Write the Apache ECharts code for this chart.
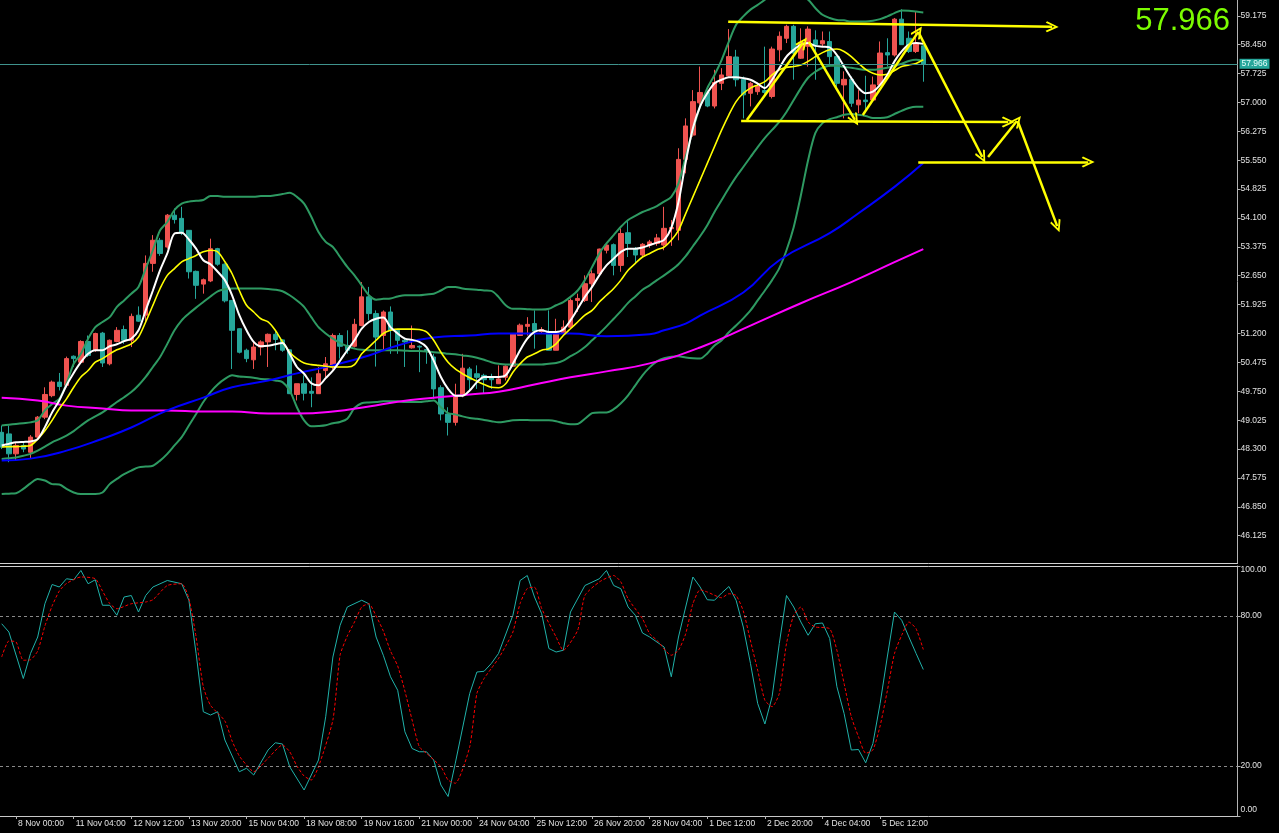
<!DOCTYPE html>
<html><head><meta charset="utf-8">
<script src="https://cdn.jsdelivr.net/npm/echarts@6/dist/echarts.min.js"></script>
<style>html,body{margin:0;padding:0;background:#000;}#c{width:1279px;height:833px;}</style>
</head><body><div id="c"></div>
<script>
// ---- time axis labels (bar index -> label) ----
const labelIdx = [2,10,18,26,34,42,50,58,66,74,82,90,98,106,114,122];
const labelText = ['8 Nov 00:00','11 Nov 04:00','12 Nov 12:00','13 Nov 20:00','15 Nov 04:00','18 Nov 08:00','19 Nov 16:00','21 Nov 00:00','24 Nov 04:00','25 Nov 12:00','26 Nov 20:00','28 Nov 04:00','1 Dec 12:00','2 Dec 20:00','4 Dec 04:00','5 Dec 12:00'];
const priceTicks = [46.125,46.85,47.575,48.3,49.025,49.75,50.475,51.2,51.925,52.65,53.375,54.1,54.825,55.55,56.275,57.0,57.725,58.45,59.175];
const stochTicks = [0,20,80,100];
const stochLevels = [80,20];
const lastPrice = 57.966;

// ---- candles (H4) ----
const open = [48.72,48.68,48.18,48.39,48.22,48.60,49.10,49.64,49.98,49.90, 50.63,50.48,51.00,50.78,51.21,50.44,51.00,51.30,51.03,51.66, 51.66,52.96,53.54,53.37,54.17,54.09,53.79,52.76,52.44,52.52, 53.33,52.94,52.03,51.32,50.78,50.54,50.86,50.99,51.18,51.04, 50.79,49.67,49.94,49.75,49.69,50.27,50.36,51.15,50.90,50.88, 51.40,52.12,51.70,51.15,51.74,51.28,51.03,50.84,50.88,50.80, 50.61,49.84,49.18,48.97,49.64,50.31,50.19,50.15,50.10,49.94, 50.10,50.38,51.15,51.38,51.45,51.25,51.24,50.78,51.20,51.36, 52.03,52.03,52.45,52.70,53.29,53.43,52.91,53.73,53.33,53.17, 53.42,53.46,53.42,53.83,53.79,55.57,56.18,56.99,57.25,56.91, 57.48,57.67,58.14,57.58,57.23,57.27,57.30,57.15,58.32,58.61, 58.91,58.11,58.41,58.57,58.47,58.53,58.15,57.44,57.58,56.94, 57.06,57.06,57.44,58.25,58.19,59.09,58.61,58.28,58.42];
const high = [48.89,48.89,48.45,48.45,48.65,49.13,49.85,50.02,50.21,50.62, 50.65,51.03,51.15,51.22,51.24,51.05,51.36,51.40,51.70,51.88, 53.16,53.67,53.60,54.20,54.34,54.38,53.79,52.78,52.58,53.58, 53.35,52.96,52.03,51.33,50.82,50.99,51.03,51.20,51.28,51.06, 50.81,49.94,50.15,50.10,50.36,50.61,51.20,51.21,51.28,51.57, 52.49,52.37,51.78,51.78,51.88,51.28,51.07,51.40,50.90,50.82, 50.69,49.90,49.35,49.94,50.69,50.36,50.40,50.19,50.19,50.40, 50.40,51.20,51.45,51.61,51.78,51.36,51.78,51.57,51.53,52.08, 52.20,52.66,52.79,53.33,53.46,53.46,53.84,54.05,53.37,53.47, 53.55,53.70,54.38,54.05,55.85,56.60,57.31,57.90,57.30,57.82, 57.86,58.84,58.32,57.65,57.52,57.48,58.40,58.40,58.78,58.95, 58.95,58.86,58.91,58.81,58.78,58.78,58.19,57.78,57.65,57.31, 57.67,57.65,58.53,58.61,59.12,59.34,58.78,59.28,58.45];
const low = [48.30,47.97,48.01,48.22,48.05,48.55,49.05,49.60,49.77,49.85, 50.36,50.44,50.61,50.74,50.36,50.40,50.98,50.94,50.86,51.49, 51.49,52.75,53.15,53.33,53.96,53.67,52.58,52.07,52.20,52.49, 52.90,51.98,50.31,50.70,50.48,50.31,50.65,50.36,50.78,50.74, 49.69,49.52,49.52,49.35,49.69,50.10,50.30,50.57,50.69,50.85, 51.38,51.53,50.37,50.78,50.69,50.69,50.36,50.82,50.23,50.44, 49.56,49.02,48.64,48.89,49.60,49.77,49.81,49.69,49.81,49.94, 50.02,50.36,51.15,51.15,50.82,51.19,50.78,50.78,51.20,51.32, 51.74,51.99,51.99,52.66,53.21,52.66,52.75,53.12,52.96,53.12, 53.35,53.40,53.29,53.40,53.54,55.22,56.14,56.90,56.88,56.85, 57.31,57.65,57.40,56.60,56.90,57.19,57.15,57.10,58.03,58.49, 57.57,58.09,57.90,57.57,58.40,57.90,57.31,56.60,56.89,56.73, 56.81,57.02,57.40,57.90,58.15,58.45,58.24,58.24,57.52];
const close = [48.35,48.18,48.39,48.30,48.60,49.10,49.67,49.98,49.87,50.57, 50.57,51.00,50.65,51.20,50.46,51.03,51.28,51.03,51.63,51.51, 52.96,53.54,53.21,54.17,54.06,53.73,52.75,52.41,52.55,53.33, 52.94,52.02,51.28,50.73,50.57,50.86,50.99,51.18,51.05,50.78, 49.69,49.94,49.70,49.70,50.19,50.44,51.15,50.88,50.78,51.43, 52.12,51.70,51.11,51.74,51.28,51.03,50.99,50.90,50.86,50.76, 49.81,49.18,48.97,49.64,50.33,50.04,50.10,50.04,50.04,50.06, 50.38,51.20,51.41,51.43,51.26,51.30,50.78,51.24,51.36,52.03, 52.08,52.45,52.70,53.32,53.42,52.91,53.71,53.46,53.17,53.44, 53.50,53.60,53.84,53.86,55.57,56.41,57.02,57.25,56.91,57.50, 57.69,58.15,57.57,57.19,57.48,57.41,57.25,58.34,58.66,58.91, 58.24,58.51,58.84,58.45,58.55,58.15,57.48,57.58,56.98,57.06, 57.02,57.44,58.24,58.19,59.09,58.45,58.28,58.49,57.966];

// ---- indicator lines (read per bar) ----
const maWhite = [48.39,48.43,48.47,48.48,48.49,48.55,48.85,49.22,49.52,49.90, 50.21,50.48,50.69,50.78,50.78,50.88,50.93,51.01,51.07,51.28, 51.78,52.28,52.79,53.21,53.71,53.73,53.56,53.33,53.04,52.94, 52.75,52.54,52.16,51.66,51.28,50.99,50.88,50.89,50.93,50.96, 50.69,50.36,50.19,49.95,49.90,50.08,50.27,50.52,50.78,51.03, 51.32,51.49,51.57,51.60,51.36,51.20,51.07,51.04,50.99,50.86, 50.52,50.11,49.81,49.64,49.64,49.77,49.98,50.11,50.11,50.11, 50.15,50.44,50.78,51.07,51.24,51.28,51.24,51.24,51.30,51.53, 51.82,52.12,52.37,52.66,52.91,53.08,53.25,53.33,53.33,53.36, 53.42,53.48,53.55,53.85,54.50,55.50,56.35,56.90,57.23,57.48, 57.57,57.63,57.63,57.61,57.57,57.47,57.36,57.57,57.86,58.15, 58.32,58.45,58.49,58.42,58.40,58.38,58.19,57.90,57.61,57.36, 57.23,57.27,57.44,57.69,58.03,58.28,58.45,58.49,58.47];
const maYellow = [48.35,48.36,48.36,48.37,48.39,48.55,48.76,49.02,49.31,49.56, 49.85,50.11,50.27,50.48,50.57,50.69,50.79,50.86,50.94,51.11, 51.49,51.91,52.33,52.66,52.83,53.00,53.08,53.16,53.25,53.29, 53.25,53.00,52.70,52.28,51.91,51.74,51.57,51.49,51.28,50.99, 50.73,50.57,50.46,50.42,50.40,50.38,50.36,50.36,50.36,50.42, 50.69,50.86,51.03,51.20,51.28,51.31,51.31,51.31,51.30,51.24, 51.03,50.73,50.48,50.31,50.19,50.09,50.00,49.92,49.85,49.84, 49.94,50.23,50.44,50.61,50.69,50.78,50.82,50.94,51.15,51.32, 51.49,51.66,51.78,51.99,52.16,52.33,52.54,52.79,52.96,53.12, 53.21,53.30,53.37,53.54,53.79,54.21,54.63,55.05,55.47,55.89, 56.31,56.69,57.02,57.23,57.36,57.44,57.52,57.69,57.82,57.88, 57.90,57.94,58.03,58.15,58.25,58.32,58.34,58.28,58.15,57.98, 57.83,57.73,57.69,57.71,57.80,57.90,57.94,57.98,58.07];
const bbUpper = [48.89,48.91,48.93,48.95,48.97,49.02,49.27,49.43,49.56,49.94, 50.44,50.69,51.07,51.36,51.49,51.61,51.87,52.03,52.20,52.37, 52.83,53.29,53.79,54.00,54.30,54.46,54.51,54.53,54.55,54.65, 54.65,54.63,54.63,54.63,54.63,54.63,54.65,54.65,54.67,54.70, 54.73,54.63,54.46,54.13,53.75,53.50,53.37,53.12,52.87,52.66, 52.41,52.16,52.05,52.07,52.08,52.13,52.16,52.16,52.16,52.18, 52.20,52.28,52.37,52.37,52.33,52.31,52.30,52.28,52.27,52.12, 51.91,51.82,51.82,51.81,51.80,51.80,51.82,51.91,51.99,52.12, 52.28,52.54,52.87,53.21,53.46,53.67,53.88,54.05,54.15,54.25, 54.32,54.40,54.51,54.63,54.97,55.64,56.31,56.90,57.36,57.69, 58.07,58.53,58.95,59.16,59.33,59.45,59.58,59.75,59.83,59.83, 59.79,59.66,59.58,59.37,59.20,59.12,59.07,59.06,59.03,59.03, 59.03,59.05,59.09,59.16,59.24,59.31,59.30,59.28,59.26];
const bbMiddle = [48.05,48.07,48.09,48.13,48.18,48.26,48.36,48.47,48.55,48.64, 48.75,48.89,49.02,49.12,49.22,49.35,49.48,49.60,49.73,49.90, 50.11,50.36,50.61,50.94,51.28,51.53,51.70,51.85,51.99,52.13, 52.26,52.31,52.33,52.33,52.33,52.33,52.33,52.32,52.30,52.26, 52.16,52.03,51.87,51.61,51.36,51.20,51.07,50.96,50.88,50.82, 50.79,50.78,50.78,50.78,50.78,50.78,50.77,50.76,50.76,50.75, 50.73,50.72,50.69,50.68,50.65,50.63,50.59,50.54,50.48,50.44, 50.42,50.42,50.42,50.42,50.42,50.42,50.44,50.46,50.52,50.63, 50.73,50.86,51.03,51.20,51.38,51.57,51.76,51.97,52.13,52.30, 52.41,52.54,52.66,52.79,52.94,53.14,53.39,53.64,53.92,54.25, 54.55,54.85,55.13,55.38,55.63,55.88,56.11,56.31,56.51,56.76, 57.06,57.36,57.62,57.77,57.87,57.92,57.92,57.89,57.87,57.84, 57.82,57.82,57.84,57.87,57.92,57.97,58.04,58.07,58.04];
const bbLower = [47.17,47.18,47.19,47.30,47.44,47.55,47.51,47.42,47.41,47.30, 47.21,47.17,47.17,47.17,47.21,47.42,47.55,47.67,47.76,47.84, 47.86,47.88,48.01,48.18,48.39,48.60,48.89,49.18,49.48,49.73, 49.92,50.06,50.15,50.12,50.11,50.09,50.06,50.05,50.02,49.98, 49.77,49.35,49.02,48.87,48.88,48.90,48.95,48.98,49.06,49.33, 49.45,49.47,49.48,49.50,49.50,49.50,49.48,49.48,49.48,49.50, 49.52,49.35,49.20,49.17,49.12,49.08,49.06,49.03,49.00,48.97, 48.99,49.02,49.03,49.03,49.02,49.02,49.02,49.00,48.95,48.92, 48.93,49.06,49.20,49.22,49.22,49.30,49.45,49.65,49.90,50.15, 50.35,50.50,50.58,50.62,50.63,50.60,50.58,50.57,50.70,50.90, 51.03,51.23,51.40,51.58,51.78,52.03,52.28,52.54,52.84,53.29, 53.87,54.67,55.55,56.23,56.48,56.58,56.63,56.69,56.71,56.69, 56.66,56.61,56.61,56.63,56.71,56.79,56.86,56.89,56.89];
// slow averages, read at sample bars [barIndex, value]
const maBlue = [[0,48.01],[4,48.06],[9,48.26],[14,48.56],[18,48.84],[23,49.27],[28,49.59],[32,49.85],[37,50.02],[41,50.20],[46,50.40],[51,50.65],[55,50.90],[60,51.10],[65,51.15],[69,51.20],[79,51.20],[84,51.13],[90,51.18],[92,51.28],[95,51.45],[97,51.65],[103,52.23],[108,53.04],[115,53.72],[119,54.22],[124,54.88],[128,55.48]];
const maMagenta = [[0,49.59],[5,49.52],[9,49.39],[14,49.32],[18,49.27],[23,49.27],[28,49.24],[32,49.24],[37,49.19],[41,49.19],[46,49.24],[51,49.37],[55,49.49],[60,49.59],[65,49.67],[69,49.74],[74,49.92],[79,50.10],[84,50.25],[90,50.45],[97,50.85],[104,51.40],[111,51.96],[118,52.49],[124,52.99],[128,53.32]];

// ---- stochastic ----
const stochK = [[0,76.9],[1,73.6],[3,55.0],[4,65.0],[5,71.6],[6,84.9],[7,92.6],[8,91.6],[9,94.9],[10,94.5],[11,98.2],[12,92.9],[13,94.5],[14,84.3],[15,84.3],[16,80.3],[17,87.6],[18,88.2],[19,81.6],[20,88.2],[21,91.6],[23,94.2],[25,92.9],[26,86.3],[27,65.0],[28,41.7],[29,40.4],[30,41.7],[31,30.4],[33,17.7],[34,19.1],[35,16.4],[37,26.4],[38,29.3],[39,28.8],[40,19.7],[42,10.4],[44,22.4],[45,39.7],[46,63.6],[47,76.3],[48,83.6],[50,86.3],[51,84.9],[52,71.6],[53,64.3],[54,55.7],[55,50.3],[56,33.7],[57,27.0],[58,25.7],[59,25.7],[60,22.4],[61,12.4],[62,7.8],[63,21.1],[65,49.0],[66,57.6],[67,57.9],[68,61.0],[69,65.0],[71,80.3],[72,94.2],[73,96.2],[74,87.6],[75,80.9],[76,67.0],[77,65.6],[78,66.3],[79,81.6],[81,92.2],[83,94.9],[84,98.2],[85,92.2],[86,90.9],[87,83.6],[88,80.3],[89,73.2],[90,71.6],[92,67.6],[93,55.7],[94,71.6],[95,83.6],[96,95.6],[97,91.6],[98,86.5],[99,86.3],[100,89.2],[101,91.8],[102,86.3],[103,75.6],[104,61.0],[105,45.0],[106,36.8],[107,47.7],[108,69.0],[109,88.2],[110,83.6],[111,77.6],[112,72.3],[113,76.9],[114,77.2],[115,71.0],[116,51.7],[117,41.0],[118,26.4],[119,26.6],[120,21.3],[121,29.0],[122,45.0],[123,63.6],[124,81.6],[125,78.3],[126,71.6],[127,65.0],[128,58.6]];
const stochD = [[0,63.6],[1,70.0],[2,69.6],[3,62.3],[4,62.5],[5,66.0],[6,76.0],[7,84.0],[8,90.0],[9,93.0],[11,95.6],[13,94.9],[14,90.0],[15,85.0],[16,82.9],[18,84.9],[20,85.6],[21,86.5],[23,92.2],[25,92.9],[26,87.0],[27,71.6],[28,51.7],[29,44.3],[31,38.0],[32,30.0],[33,24.0],[34,20.4],[35,17.7],[37,23.1],[39,28.4],[40,25.7],[41,20.0],[42,16.0],[43,14.4],[44,19.7],[46,38.4],[47,64.3],[48,72.0],[49,77.6],[50,83.6],[51,84.9],[52,80.0],[53,74.0],[54,66.0],[55,60.0],[56,50.0],[57,38.4],[58,27.7],[59,25.1],[61,19.7],[62,14.4],[63,13.1],[65,27.7],[66,49.0],[67,55.0],[68,59.0],[69,63.0],[70,68.0],[71,73.6],[72,85.0],[73,91.0],[74,91.5],[75,83.0],[77,71.6],[78,66.3],[80,74.3],[81,88.2],[83,93.6],[85,96.2],[86,93.6],[87,86.9],[89,78.9],[90,72.9],[91,70.3],[93,64.3],[94,66.3],[95,72.9],[96,84.9],[97,90.5],[98,89.6],[100,87.3],[101,88.9],[102,88.2],[103,82.0],[104,70.0],[105,58.3],[106,46.3],[107,43.7],[108,49.0],[109,69.0],[110,80.3],[111,83.6],[112,77.6],[113,75.6],[115,74.9],[116,66.3],[117,53.0],[118,39.7],[119,31.7],[120,25.1],[121,26.4],[122,36.0],[123,50.0],[124,65.0],[125,72.3],[126,77.6],[127,74.9],[128,66.6]];

// ---- drawn annotation arrows [barIndex, price] ----
const arrowFrom = [[100.9,59.024],[102.7,56.534],[127.3,55.503],[103.5,56.560],[112.1,58.521],[119.6,56.685],[127.3,58.772],[137.0,55.629],[141.1,56.534]];
const arrowTo   = [[145.9,58.898],[139.8,56.509],[150.9,55.503],[111.3,58.496],[118.5,56.560],[127.3,58.772],[136.2,55.629],[141.0,56.534],[146.6,53.894]];
const markerPoint = [[128,59.62]];

// ---- build ----
const candles = open.map((o,i)=>[i,o,close[i],low[i],high[i]]);
const perBar = arr => arr.map((v,i)=>[i,v]);
const labelMap = {}; labelIdx.forEach((k,j)=>labelMap[k]=labelText[j]);
const FONT = 'Liberation Sans';
const AXC = '#b4b4b4', TXT = '#e2e2e2';
const chevron = 'path://M5 0 L10 9 L8.6 10 L5 3.2 L1.4 10 L0 9 Z';

const xBase = {type:'value', min:-0.236, max:171.64, splitLine:{show:false}};
const lineS = (name,data,color,width,smooth)=>({name,type:'line',xAxisIndex:0,yAxisIndex:0,data,showSymbol:false,symbol:'none',smooth:smooth,lineStyle:{color,width},itemStyle:{color},silent:true,z:3});

const chart = echarts.init(document.getElementById('c'), null, {renderer:'canvas'});
chart.setOption({
  backgroundColor:'#000000',
  animation:false,
  title:{text:String(lastPrice), right:44, top:1, textStyle:{color:'#7cfc00', fontSize:31, fontWeight:'normal', fontFamily:FONT}},
  grid:[
    {left:0, right:41.5, top:0, height:563},
    {left:0, right:41.5, top:566, height:250}
  ],
  xAxis:[
    Object.assign({}, xBase, {gridIndex:0, axisLine:{show:true, onZero:false, lineStyle:{color:'#d0d0d0'}}, axisTick:{show:false}, axisLabel:{show:false}}),
    Object.assign({}, xBase, {gridIndex:1, position:'bottom', axisLine:{show:true, onZero:false, lineStyle:{color:'#c8c8c8'}},
      axisTick:{show:true, length:3, customValues:labelIdx, lineStyle:{color:AXC}},
      axisLabel:{customValues:labelIdx, formatter:v=>labelMap[v]||'', align:'left', margin:3, padding:[0,0,0,2], color:TXT, fontSize:8.5, fontFamily:FONT}}),
    Object.assign({}, xBase, {gridIndex:1, position:'top', axisLine:{show:true, onZero:false, lineStyle:{color:'#d0d0d0'}}, axisTick:{show:false}, axisLabel:{show:false}})
  ],
  yAxis:[
    {type:'value', gridIndex:0, position:'right', min:45.44, max:59.571, splitLine:{show:false},
      axisLine:{show:true, onZero:false, lineStyle:{color:AXC}}, axisTick:{show:true, length:3, customValues:priceTicks, lineStyle:{color:AXC}},
      axisLabel:{customValues:priceTicks, formatter:v=>v.toFixed(3), margin:3, color:TXT, fontSize:8.5, fontFamily:FONT}},
    {type:'value', gridIndex:1, position:'right', min:0, max:100, splitLine:{show:false},
      axisLine:{show:true, onZero:false, lineStyle:{color:AXC}}, axisTick:{show:true, length:3, customValues:stochTicks, lineStyle:{color:AXC}},
      axisLabel:{customValues:stochTicks, margin:3,
        formatter:v=> v===100 ? '{t|100.00}' : (v===0 ? '{b|0.00}' : '{m|'+v.toFixed(2)+'}'),
        rich:{t:{padding:[8,0,0,0],color:TXT,fontSize:8.5,fontFamily:FONT}, b:{padding:[0,0,12,0],color:TXT,fontSize:8.5,fontFamily:FONT}, m:{color:TXT,fontSize:8.5,fontFamily:FONT}}}}
  ],
  series:[
    {type:'candlestick', xAxisIndex:0, yAxisIndex:0, data:candles, barWidth:5, silent:true, z:2,
      itemStyle:{color:'#ef5350', color0:'#26a69a', borderColor:'#ef5350', borderColor0:'#26a69a', borderWidth:1},
      markLine:{silent:true, symbol:'none', animation:false,
        lineStyle:{color:'#3f938d', width:1, type:'solid'},
        label:{show:true, position:'end', distance:2, formatter:String(lastPrice), backgroundColor:'#26a69a', color:'#e6fffb', fontSize:8.5, fontFamily:FONT, padding:[1,2,0,2]},
        data:[{yAxis:lastPrice}]}},
    lineS('bbUpper', perBar(bbUpper), '#2e9a62', 2, 0.3),
    lineS('bbMiddle', perBar(bbMiddle), '#2e9a62', 2, 0.3),
    lineS('bbLower', perBar(bbLower), '#2e9a62', 2, 0.3),
    lineS('maMagenta', maMagenta, '#ff00ff', 2, true),
    lineS('maBlue', maBlue, '#0000ff', 2, true),
    lineS('maYellow', perBar(maYellow), '#ffff00', 1.6, 0.3),
    lineS('maWhite', perBar(maWhite), '#ffffff', 2, 0.3),
    {type:'scatter', xAxisIndex:0, yAxisIndex:0, data:markerPoint, symbol:'diamond', symbolSize:9, itemStyle:{color:'#ffffff'}, silent:true, z:5,
      markLine:{silent:true, animation:false, symbol:['none', chevron], symbolSize:[11,13],
        lineStyle:{color:'#ffff00', width:2.5, type:'solid'}, label:{show:false},
        data: arrowFrom.map((f,k)=>[{coord:f},{coord:arrowTo[k]}])}},
    {name:'%K', type:'line', xAxisIndex:1, yAxisIndex:1, data:stochK, showSymbol:false, symbol:'none', silent:true,
      lineStyle:{color:'#20b2aa', width:1}, itemStyle:{color:'#20b2aa'}, z:3,
      markLine:{silent:true, symbol:'none', animation:false, lineStyle:{color:'#8a8a8a', type:[3,3], width:1}, label:{show:false},
        data: stochLevels.map(v=>({yAxis:v}))}},
    {name:'%D', type:'line', xAxisIndex:1, yAxisIndex:1, data:stochD, showSymbol:false, symbol:'none', silent:true, smooth:0.2,
      lineStyle:{color:'#ff0000', width:1, type:[3,2]}, itemStyle:{color:'#ff0000'}, z:3}
  ]
});
</script></body></html>
